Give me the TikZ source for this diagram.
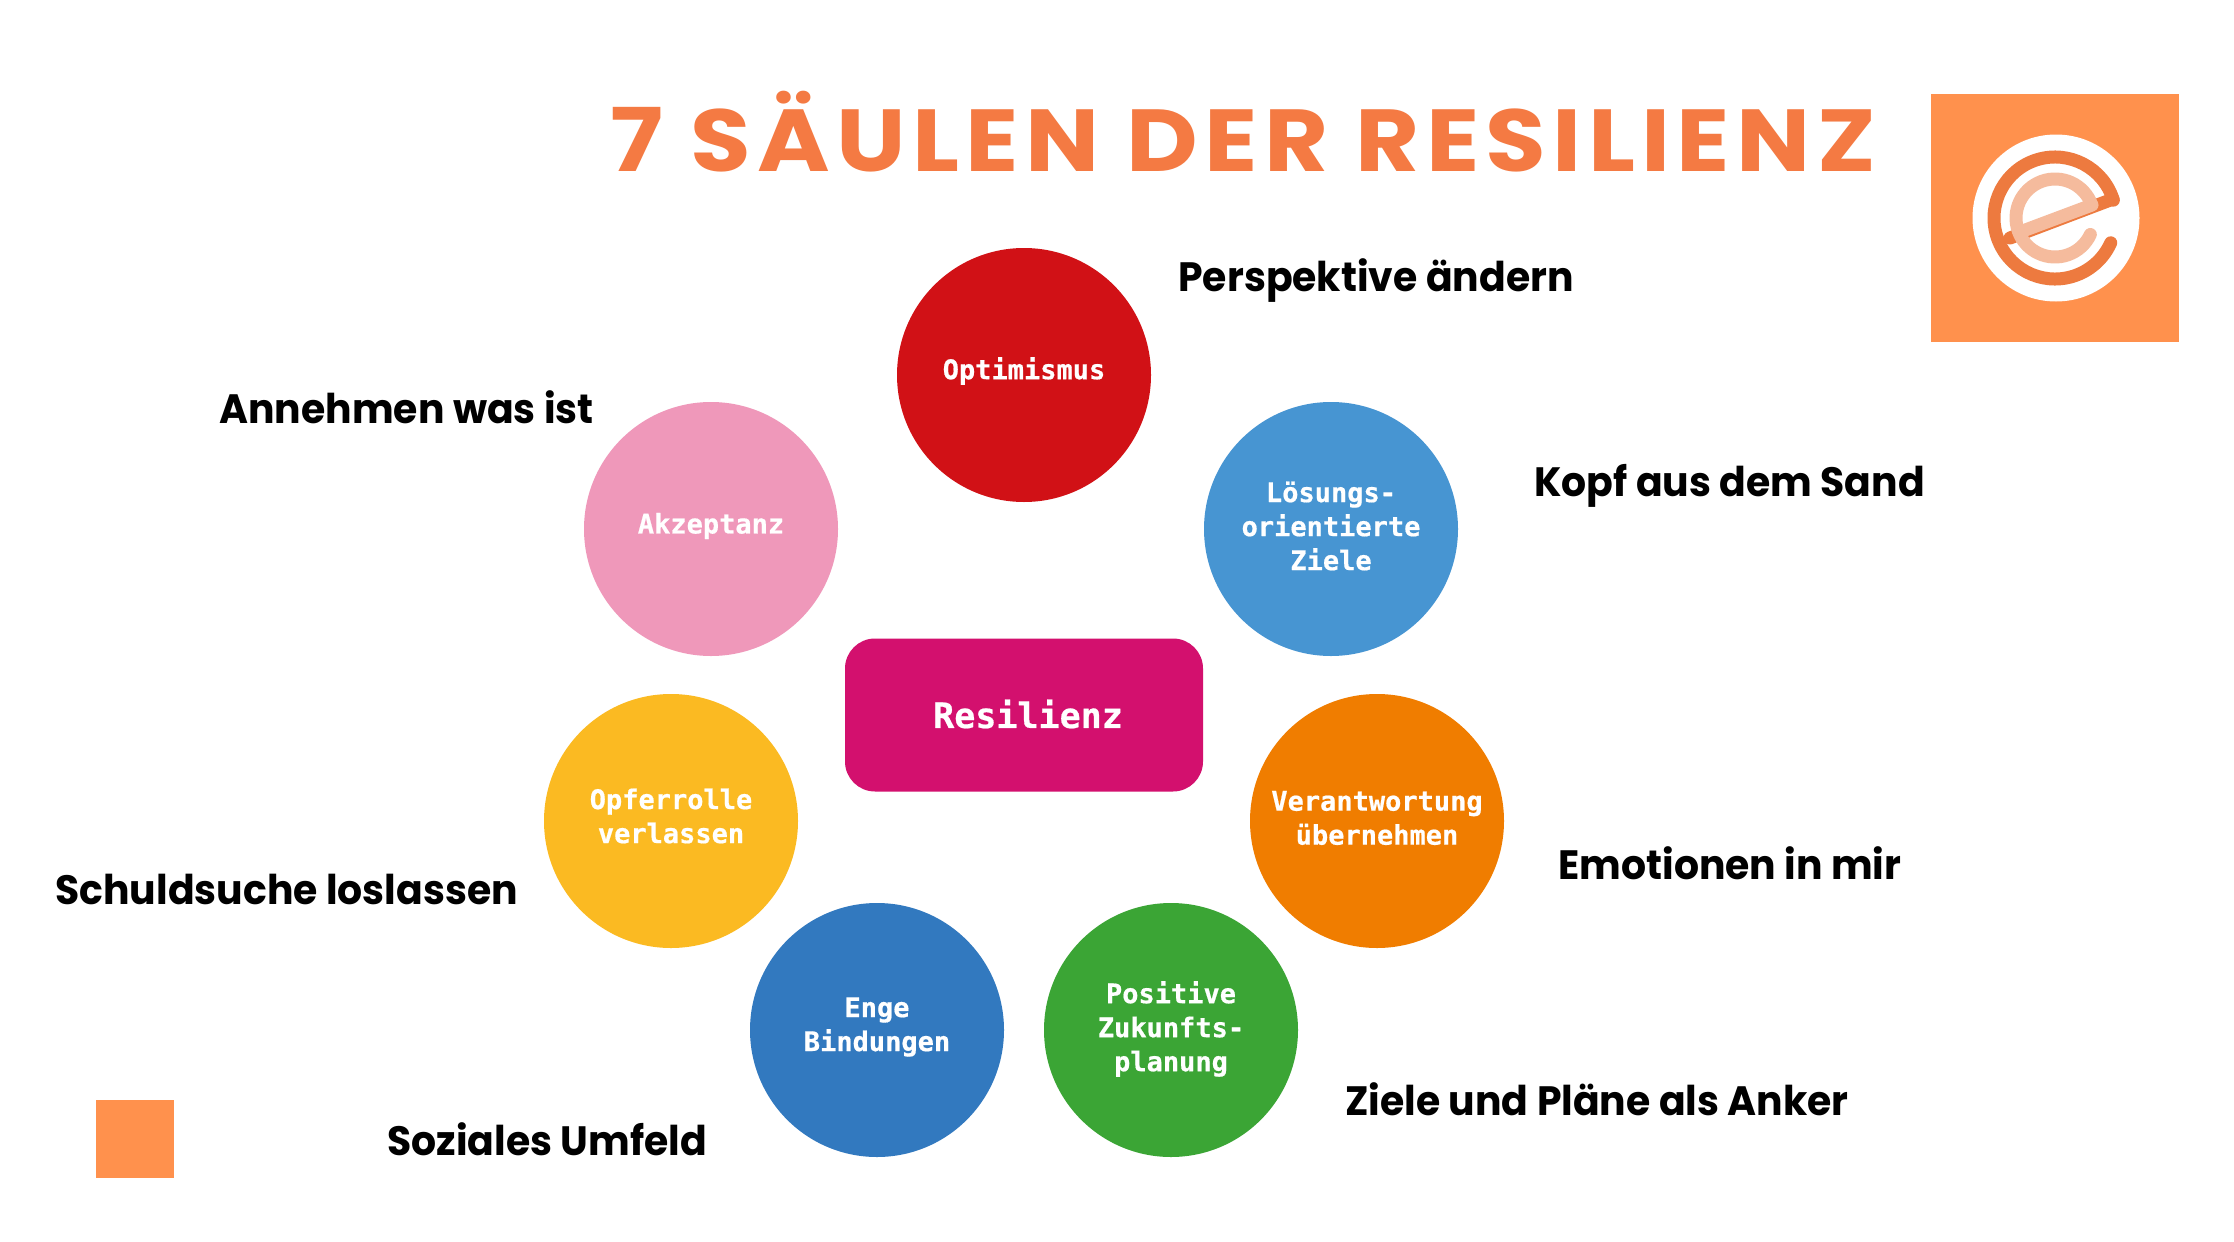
\documentclass[tikz,border=0pt]{standalone}
\usepackage{fontspec}
\setmainfont{Poppins}
\newfontfamily\capf{Poppins}[BoldFont={Poppins Bold},BoldFeatures={FakeStretch=0.96}]
\newfontfamily\monof{DejaVu Sans Mono}[BoldFont={DejaVu Sans Mono Bold},BoldFeatures={FakeBold=0.6}]
\newfontfamily\titlef{Poppins}[BoldFont={Poppins Bold},BoldFeatures={FakeStretch=1.12,LetterSpace=7.2}]
\definecolor{bgorange}{HTML}{FF914D}
\definecolor{ringdark}{HTML}{ED7A3F}
\definecolor{ringlight}{HTML}{F5BB9D}
\definecolor{titleor}{HTML}{F47A43}
\definecolor{cred}{HTML}{D11116}
\definecolor{cblue}{HTML}{4795D2}
\definecolor{cpink}{HTML}{EF98BA}
\definecolor{corange}{HTML}{F07D00}
\definecolor{cyellow}{HTML}{FBBA22}
\definecolor{cgreen}{HTML}{3BA535}
\definecolor{cdblue}{HTML}{3279BF}
\definecolor{cmag}{HTML}{D3106E}
\tikzset{
  pillar/.style={circle,minimum size=127pt,inner sep=0pt},
  pilltext/.style={inner sep=0pt,text=white,align=center,
    font=\monof\bfseries\fontsize{13.5}{17}\selectfont},
  caption/.style={anchor=base west,inner sep=0pt,text=black,font=\capf\bfseries\fontsize{20.5}{24}\selectfont},
  square/.style={fill=bgorange,draw=none},
}
\begin{document}
\begin{tikzpicture}[x=0.5pt,y=-0.5pt]
\useasboundingbox (0,0) rectangle (2234,1242);
\fill[white] (0,0) rectangle (2234,1242);
\node[anchor=base west,inner sep=0pt,text=titleor,font=\titlef\bfseries\fontsize{44}{50}\selectfont] (title) at (610,171) {7 SÄULEN DER RESILIENZ};
% logo
\fill[square] (1931,94) rectangle (2179,342);
\fill[white] (2056,218) circle[radius=83.5];
\draw[ringdark,line width=6.5pt,line cap=round] (2055,218) ++(-17:61) arc[start angle=-17,end angle=-336,radius=61];
\draw[ringdark,line width=6.5pt,line cap=round] (2113,199) -- (2010,238);
\draw[ringlight,line width=6.5pt,line cap=round] (2055,218) ++(-20:39) arc[start angle=-20,end angle=-335,radius=39];
\draw[ringlight,line width=6.5pt,line cap=round] (2092,205) -- (2020,232);
% bottom square
\fill[square] (96,1100) rectangle (174,1178);
% circles
\node[pillar,fill=cred,label={[pilltext,yshift=2pt]center:{Optimismus}}] (opt) at (1024,375) {};
\node[pillar,fill=cblue,label={[pilltext,yshift=1.5pt]center:{Lösungs-\\orientierte\\Ziele}}] (loe) at (1331,529) {};
\node[pillar,fill=cpink,label={[pilltext,yshift=1.5pt]center:{Akzeptanz}}] (akz) at (711,529) {};
\node[pillar,fill=corange,label={[pilltext,yshift=1.5pt]center:{Verantwortung\\übernehmen}}] (ver) at (1377,821) {};
\node[pillar,fill=cyellow,label={[pilltext,yshift=2.5pt]center:{Opferrolle\\verlassen}}] (opf) at (671,821) {};
\node[pillar,fill=cgreen,label={[pilltext,yshift=0.5pt]center:{Positive\\Zukunfts-\\planung}}] (pos) at (1171,1030) {};
\node[pillar,fill=cdblue,label={[pilltext,yshift=1.5pt]center:{Enge\\Bindungen}}] (eng) at (877,1030) {};
\node[fill=cmag,rounded corners=15pt,minimum width=179pt,minimum height=76.5pt,inner sep=0pt,
  label={[pilltext,font=\monof\bfseries\fontsize{17.5}{20}\selectfont,xshift=2pt,yshift=0.5pt]center:{Resilienz}}] (res) at (1024,715) {};
% captions
\node[caption] (c1) at (1178,291) {Perspektive ändern};
\node[caption] (c2) at (1534,496) {Kopf aus dem Sand};
\node[caption] (c3) at (219,423) {Annehmen was ist};
\node[caption] (c4) at (1558,879) {Emotionen in mir};
\node[caption] (c5) at (55,904) {Schuldsuche loslassen};
\node[caption] (c6) at (1345,1115) {Ziele und Pläne als Anker};
\node[caption] (c7) at (387,1155) {Soziales Umfeld};
\end{tikzpicture}
\end{document}
